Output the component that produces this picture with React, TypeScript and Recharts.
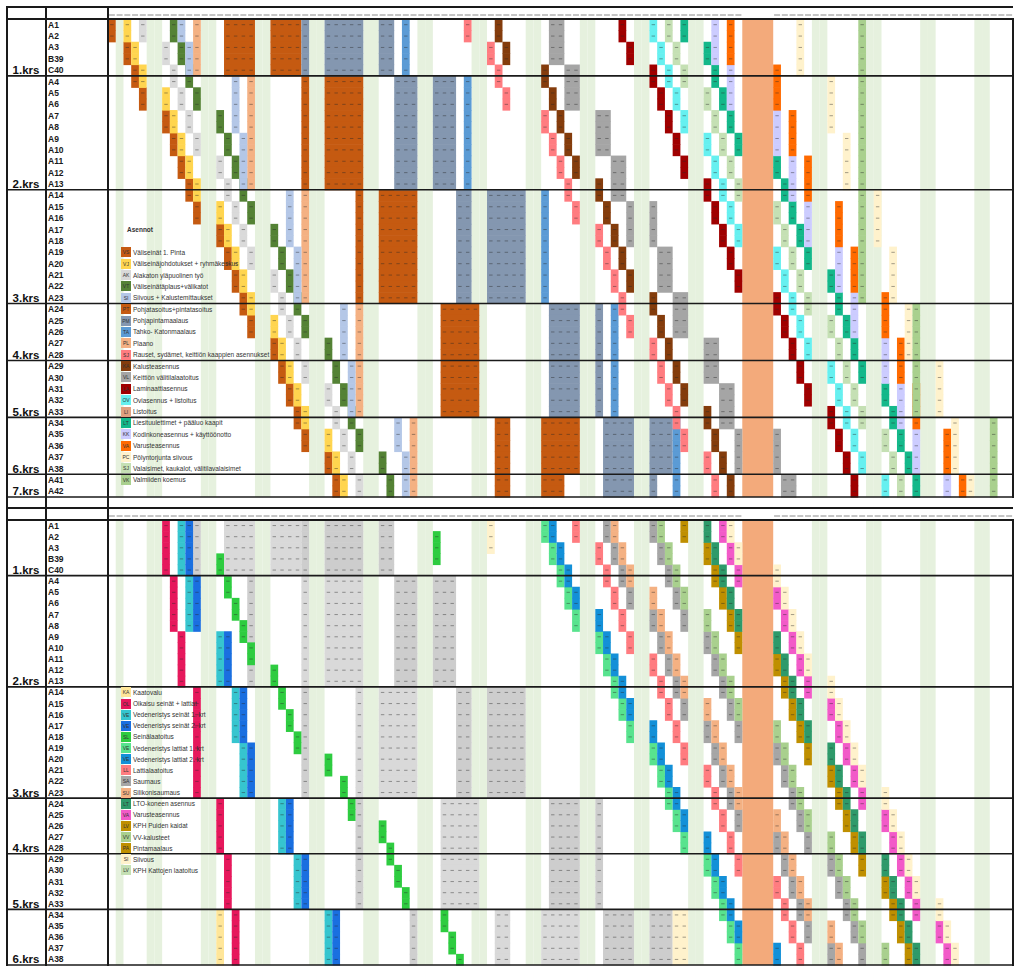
import React from "react"
import { BarChart, Bar, XAxis, YAxis, ReferenceArea, Legend } from "recharts"

const DAYS = 117
const FRAME_LEFT = 6
const PLOT_LEFT = 108
const PLOT_RIGHT = 1013
const COL_W = (PLOT_RIGHT - PLOT_LEFT) / DAYS
const FONT = '"Liberation Sans", Arial, sans-serif'

// weekend columns (light green) and the holiday block
const offDays = [1, 5, 6, 12, 13, 19, 20, 26, 27, 33, 34, 40, 41, 47, 48, 54, 55, 61, 62, 68, 69, 75, 76, 91, 92, 98, 99, 105, 106, 112, 113]
const holiday = [82, 86]

const topRows = [
  "A1", "A2", "A3", "B39", "C40",
  "A4", "A5", "A6", "A7", "A8", "A9", "A10", "A11", "A12", "A13",
  "A14", "A15", "A16", "A17", "A18", "A19", "A20", "A21", "A22", "A23",
  "A24", "A25", "A26", "A27", "A28",
  "A29", "A30", "A31", "A32", "A33",
  "A34", "A35", "A36", "A37", "A38",
  "A41", "A42",
]
const bottomRows = topRows.slice(0, 40)
const topFloors: [string, number][] = [["1.krs", 4], ["2.krs", 14], ["3.krs", 24], ["4.krs", 29], ["5.krs", 34], ["6.krs", 39], ["7.krs", 41]]
const bottomFloors = topFloors.slice(0, 6)

// ---- upper schedule: start column for each pair of rows ----
const vsSteps = [0, 2, 3, 4, 7, 8, 9, 10, 11, 14, 15, 16, 17, 18, 21, 22, 23, 24, 25, 28, 29]
const vjSteps = [2, 3, 4, 7, 8, 9, 10, 11, 14, 15, 16, 17, 18, 21, 22, 23, 24, 25, 28, 29, 30]
const akSteps = [4, 7, 8, 9, 10, 11, 14, 15, 16, 17, 18, 21, 22, 23, 24, 25, 28, 29, 30, 31, 32]
const vtSteps = [8, 9, 10, 11, 14, 15, 16, 17, 18, 21, 22, 23, 24, 25, 28, 29, 30, 31, 32, 35, 36]
const sjSteps = [46, 49, 50, 51, 56, 57, 58, 59, 60, 63, 64, 65, 66, 67, 70, 71, 72, 73, 74, 77, 78]
const kaSteps = [50, 51, 56, 57, 58, 59, 60, 63, 64, 65, 66, 67, 70, 71, 72, 73, 74, 77, 78, 79, 80]
const laSteps = [66, 67, 70, 71, 72, 73, 74, 77, 78, 79, 80, 81, 86, 87, 88, 89, 90, 93, 94, 95, 96]
const ovSteps = [70, 71, 72, 73, 74, 77, 78, 79, 80, 81, 86, 87, 88, 89, 90, 93, 94, 95, 96, 97, 100]
const luSteps = [72, 73, 74, 77, 78, 79, 80, 81, 86, 87, 88, 89, 90, 93, 94, 95, 96, 97, 100, 101, 102]
const ltSteps = [74, 77, 78, 79, 80, 81, 86, 87, 88, 89, 90, 93, 94, 95, 96, 97, 100, 101, 102, 103, 104]

// blocks: [first row, last row, first column, last column]
const plBlocks = [[0, 4, 11, 11], [5, 14, 18, 18], [15, 24, 25, 25], [25, 34, 32, 32], [35, 41, 39, 39]]
const siBlocks = [[0, 1, 9, 9], [2, 4, 10, 10], [5, 9, 16, 16], [10, 14, 17, 17], [15, 19, 23, 23], [20, 24, 24, 24], [25, 29, 30, 30], [30, 34, 31, 31], [35, 37, 37, 37], [38, 41, 38, 38]]
const ptBlocks = [[0, 4, 15, 18], [0, 4, 21, 24], [5, 14, 25, 25], [5, 14, 28, 32], [15, 24, 32, 32], [15, 24, 35, 39], [25, 34, 43, 47], [35, 39, 50, 51], [35, 39, 56, 60], [40, 41, 50, 51], [40, 41, 56, 58]]
const pmBlocks = [[0, 4, 25, 25], [0, 4, 28, 32], [0, 4, 35, 36], [5, 14, 37, 39], [5, 14, 42, 44], [15, 24, 45, 46], [15, 24, 49, 53], [25, 34, 57, 60], [25, 34, 63, 63], [35, 39, 64, 67], [35, 39, 70, 72], [40, 41, 64, 67], [40, 41, 70, 70]]
const taBlocks = [[0, 4, 38, 38], [5, 14, 46, 46], [15, 24, 56, 56], [25, 34, 65, 65], [35, 41, 73, 73]]
const vlBlocks = [[0, 3, 57, 58], [4, 7, 59, 60], [8, 11, 63, 64], [12, 15, 65, 66], [16, 19, 67, 67], [16, 19, 70, 70], [20, 23, 71, 72], [24, 27, 73, 74], [28, 31, 77, 78], [32, 35, 79, 80], [36, 39, 81, 81], [36, 39, 86, 86], [40, 41, 87, 88]]
const kkBlocks = [[0, 3, 78, 78], [4, 7, 80, 80], [8, 11, 86, 86], [12, 15, 88, 88], [16, 19, 90, 90], [20, 23, 94, 94], [24, 27, 96, 96], [28, 31, 100, 100], [32, 35, 102, 102], [36, 39, 104, 104], [40, 41, 108, 108]]
const vaBlocks = [[0, 3, 80, 80], [4, 7, 86, 86], [8, 11, 88, 88], [12, 15, 90, 90], [16, 19, 94, 94], [20, 23, 96, 96], [24, 27, 100, 100], [28, 31, 102, 102], [32, 35, 104, 104], [36, 39, 108, 108], [40, 41, 110, 110]]
const pcBlocks = [[0, 4, 89, 89], [5, 9, 93, 93], [10, 14, 95, 95], [15, 19, 99, 99], [20, 24, 101, 101], [25, 29, 103, 103], [30, 34, 107, 107], [35, 39, 109, 109], [40, 41, 111, 111]]
const vkBlocks = [[0, 24, 97, 97], [25, 34, 104, 104], [35, 41, 114, 114]]

// ---- lower schedule ----
const olBlocks = [[0, 4, 7, 7], [5, 9, 8, 8], [10, 14, 9, 9], [15, 24, 11, 11], [25, 29, 14, 14], [30, 34, 15, 15], [35, 39, 16, 16]]
const ve1Blocks = [[0, 4, 9, 9], [5, 9, 10, 10], [10, 14, 14, 14], [15, 19, 16, 16], [20, 24, 17, 17], [25, 29, 22, 22], [30, 34, 24, 24], [35, 39, 28, 28]]
const ve2Blocks = [[0, 4, 10, 10], [5, 9, 11, 11], [10, 14, 15, 15], [15, 19, 17, 17], [20, 24, 18, 18], [25, 29, 23, 23], [30, 34, 25, 25], [35, 39, 29, 29]]
const kvBlocks = [[35, 39, 14, 14]]
const slBlocks = [[3, 4, 14, 14], [5, 6, 15, 15], [7, 8, 16, 16], [9, 10, 17, 17], [11, 12, 18, 18], [13, 14, 21, 21], [15, 16, 22, 22], [17, 18, 23, 23], [19, 20, 24, 24], [21, 22, 28, 28], [23, 24, 30, 30], [25, 26, 31, 31], [27, 28, 35, 35], [29, 30, 36, 36], [31, 32, 37, 37], [33, 34, 38, 38], [35, 36, 43, 43], [37, 38, 44, 44], [39, 39, 45, 45]]
const ltoBlocks = [[1, 3, 42, 42]]
const sgBlocks = [[0, 4, 11, 11], [5, 14, 18, 18], [15, 24, 25, 25], [25, 34, 32, 32], [35, 39, 39, 39]]
const saBlocks = [[0, 4, 15, 18], [0, 4, 21, 24], [5, 14, 25, 25], [5, 14, 28, 32], [15, 24, 32, 32], [15, 24, 35, 39], [25, 34, 43, 47], [35, 39, 50, 51], [35, 39, 56, 60]]
const suBlocks = [[0, 4, 25, 25], [0, 4, 28, 32], [0, 4, 35, 36], [5, 14, 37, 39], [5, 14, 42, 44], [15, 24, 45, 46], [15, 24, 49, 53], [25, 34, 57, 60], [25, 34, 63, 63], [35, 39, 64, 67], [35, 39, 70, 72]]
const scBlocks = [[0, 2, 49, 49], [35, 39, 73, 74]]
const mintSteps = [56, 57, 58, 59, 60, 63, 64, 65, 66, 67, 70, 71, 72, 73, 74, 77, 78, 79, 80, 81]
const blueSteps = [57, 58, 59, 60, 63, 64, 65, 66, 67, 70, 71, 72, 73, 74, 77, 78, 79, 80, 81, 86]
const llSteps = [60, 63, 64, 65, 66, 67, 70, 71, 72, 73, 74, 77, 78, 79, 80, 81, 86, 87, 88, 89]
const saSteps = [64, 65, 66, 67, 70, 71, 72, 73, 74, 77, 78, 79, 80, 81, 86, 87, 88, 89, 90, 93]
const peachSteps = [65, 66, 67, 70, 71, 72, 73, 74, 77, 78, 79, 80, 81, 86, 87, 88, 89, 90, 93, 94]
const suSteps = [70, 71, 72, 73, 74, 77, 78, 79, 80, 81, 86, 87, 88, 89, 90, 93, 94, 95, 96, 97]
const vvSteps = [71, 72, 73, 74, 77, 78, 79, 80, 81, 86, 87, 88, 89, 90, 93, 94, 95, 96, 97, 100]
const paSteps = [74, 77, 78, 79, 80, 81, 86, 87, 88, 89, 90, 93, 94, 95, 96, 97, 100, 101, 102, 103]
const ltSteps2 = [77, 78, 79, 80, 81, 86, 87, 88, 89, 90, 93, 94, 95, 96, 97, 100, 101, 102, 103, 104]
const vaSteps = [79, 80, 81, 86, 87, 88, 89, 90, 93, 94, 95, 96, 97, 100, 101, 102, 103, 104, 107, 108]
const siSteps = [80, 81, 86, 87, 88, 89, 90, 93, 94, 95, 96, 97, 100, 101, 102, 103, 104, 107, 108, 109]

const topLegend: [string, string, string][] = [
  ["VS", "#C55A11", "Väliseinät 1. Pinta"],
  ["VJ", "#FFD54F", "Väliseinäjohdotukset + ryhmäkeskus"],
  ["AK", "#D9D9D9", "Alakaton yläpuolinen työ"],
  ["VT", "#548235", "Väliseinätäplaus+välikatot"],
  ["SI", "#B4C7E7", "Siivous + Kalustemittaukset"],
  ["PT", "#C55A11", "Pohjatasoitus+pintatasoitus"],
  ["PM", "#8497B0", "Pohjapintamaalaus"],
  ["TA", "#5B9BD5", "Tahko- Katonmaalaus"],
  ["PL", "#F4B183", "Plaano"],
  ["SJ", "#FF7C80", "Rauset, sydämet, keittiön kaappien asennukset"],
  ["KA", "#843C0C", "Kalusteasennus"],
  ["VL", "#A5A5A5", "Keittiön välitilalaatoitus"],
  ["LA", "#A00000", "Laminaattiasennus"],
  ["OV", "#66F0F0", "Oviasennus + listoitus"],
  ["LI", "#E0A080", "Listoitus"],
  ["LT", "#14B88A", "Liesituulettimet + pääluo kaapit"],
  ["KK", "#CCCCFF", "Kodinkoneasennus + käyttöönotto"],
  ["VA", "#FF6A00", "Varusteasennus"],
  ["PC", "#FFF2CC", "Pölyntorjunta siivous"],
  ["SJ", "#C5E0B4", "Valaisimet, kaukalot, välitilavalaisimet"],
  ["VK", "#A9D08E", "Valmiiden koemus"],
]

const bottomLegend: [string, string, string][] = [
  ["KA", "#FFE699", "Kaatovalu"],
  ["OL", "#E6185C", "Oikaisu seinät + lattiat"],
  ["VE", "#36C5CF", "Vedeneristys seinät 1. krt"],
  ["VE", "#1A6FE0", "Vedeneristys seinät 2. krt"],
  ["SL", "#2ECC40", "Seinälaatoitus"],
  ["VE", "#58E38E", "Vedeneristys lattiat 1. krt"],
  ["VE", "#1390D8", "Vedeneristys lattiat 2. krt"],
  ["LL", "#FF7C80", "Lattialaatoitus"],
  ["SA", "#A6A6A6", "Saumaus"],
  ["SU", "#F4B183", "Silikonisaumaus"],
  ["LT", "#2E9A6A", "LTO-koneen asennus"],
  ["VA", "#F25AC8", "Varusteasennus"],
  ["LV", "#BF8F00", "KPH Puiden kaidat"],
  ["VV", "#A9D08E", "VV-kalusteet"],
  ["PA", "#BF8F00", "Pintamaalaus"],
  ["SI", "#FFF2CC", "Siivous"],
  ["LV", "#C5E0B4", "KPH Kattojen laatoitus"],
]

type Task = { id: string; color: string; blocks: number[][] }
const pairs = (cols: number[]) => cols.map((c, p) => [p * 2, p * 2 + 1, c, c])

const topTasks: Task[] = [
  { id: "pl", color: "#F4B183", blocks: plBlocks },
  { id: "vs", color: "#C55A11", blocks: pairs(vsSteps) },
  { id: "vj", color: "#FFD54F", blocks: pairs(vjSteps) },
  { id: "ak", color: "#DADADA", blocks: pairs(akSteps) },
  { id: "vt", color: "#548235", blocks: pairs(vtSteps) },
  { id: "si", color: "#B4C7E7", blocks: siBlocks },
  { id: "pt", color: "#C55A11", blocks: ptBlocks },
  { id: "pm", color: "#8497B0", blocks: pmBlocks },
  { id: "ta", color: "#5B9BD5", blocks: taBlocks },
  { id: "sj", color: "#FF7C80", blocks: pairs(sjSteps) },
  { id: "ka", color: "#843C0C", blocks: pairs(kaSteps) },
  { id: "vl", color: "#A5A5A5", blocks: vlBlocks },
  { id: "la", color: "#A00000", blocks: pairs(laSteps) },
  { id: "ov", color: "#66F0F0", blocks: pairs(ovSteps) },
  { id: "lu", color: "#C5E0B4", blocks: pairs(luSteps) },
  { id: "lt", color: "#14B88A", blocks: pairs(ltSteps) },
  { id: "kk", color: "#CCCCFF", blocks: kkBlocks },
  { id: "va", color: "#FF6A00", blocks: vaBlocks },
  { id: "pc", color: "#FFF2CC", blocks: pcBlocks },
  { id: "vk", color: "#A9D08E", blocks: vkBlocks },
]

const bottomTasks: Task[] = [
  { id: "sg", color: "#CFCFCF", blocks: sgBlocks },
  { id: "ol", color: "#E6185C", blocks: olBlocks },
  { id: "ve1", color: "#36C5CF", blocks: ve1Blocks },
  { id: "ve2", color: "#1A6FE0", blocks: ve2Blocks },
  { id: "kv", color: "#FFE699", blocks: kvBlocks },
  { id: "sl", color: "#2ECC40", blocks: slBlocks },
  { id: "lto", color: "#2ECC40", blocks: ltoBlocks },
  { id: "sa", color: "#D9D9D9", blocks: saBlocks },
  { id: "su", color: "#CDCDCD", blocks: suBlocks },
  { id: "sc", color: "#FFF2CC", blocks: scBlocks },
  { id: "mint", color: "#58E38E", blocks: pairs(mintSteps) },
  { id: "blue", color: "#1390D8", blocks: pairs(blueSteps) },
  { id: "ll", color: "#FF7C80", blocks: pairs(llSteps) },
  { id: "sa2", color: "#A6A6A6", blocks: pairs(saSteps) },
  { id: "peach", color: "#F4B183", blocks: pairs(peachSteps) },
  { id: "su2", color: "#A6A6A6", blocks: pairs(suSteps) },
  { id: "vv", color: "#A9D08E", blocks: pairs(vvSteps) },
  { id: "pa", color: "#BF8F00", blocks: pairs(paSteps) },
  { id: "lt2", color: "#2E9A6A", blocks: pairs(ltSteps2) },
  { id: "va2", color: "#F25AC8", blocks: pairs(vaSteps) },
  { id: "si2", color: "#FFF2CC", blocks: pairs(siSteps) },
]

// one row per apartment; a task with two spans in one row gets a second layer
function buildRows(labels: string[], tasks: Task[]) {
  const rows: any[] = labels.map((label) => ({ label }))
  const layers: Record<string, number> = {}
  tasks.forEach((t) => {
    const perRow: number[][][] = labels.map(() => [])
    t.blocks.forEach(([r0, r1, c0, c1]) => {
      for (let r = r0; r <= Math.min(r1, labels.length - 1); r++) perRow[r].push([c0, c1 + 1])
    })
    layers[t.id] = 0
    perRow.forEach((segs, r) => {
      segs.sort((a, b) => a[0] - b[0]).forEach((s, k) => {
        rows[r][`${t.id}_${k}`] = s
      })
      layers[t.id] = Math.max(layers[t.id], segs.length)
    })
  })
  return { rows, layers }
}

const cellShape = (props: any) => {
  const { x, y, width, height, fill } = props
  if (!width || width <= 0 || !height) return <g />
  const n = Math.max(1, Math.round(width / COL_W))
  const cw = width / n
  const my = y + height / 2
  return (
    <g>
      <rect x={x} y={y} width={width} height={height + 0.6} fill={fill} />
      {Array.from({ length: n }, (_, i) => (
        <line key={i} x1={x + i * cw + cw * 0.28} x2={x + (i + 1) * cw - cw * 0.28} y1={my} y2={my} stroke="rgba(40,40,40,0.55)" strokeWidth={0.8} />
      ))}
    </g>
  )
}

const dashTick = (props: any) => {
  const { x, y } = props
  return <line x1={x - 3} x2={x + 3} y1={y - 4} y2={y - 4} stroke="#8a8a8a" strokeWidth={1} />
}

const legendBox = (items: [string, string, string][], rowH: number, title?: string) => () => (
  <div style={{ fontFamily: FONT, fontSize: 6.5, color: "#333", textAlign: "left", whiteSpace: "nowrap" }}>
    {title && <div style={{ height: rowH * 2, lineHeight: `${rowH}px`, fontWeight: "bold", paddingLeft: 6 }}>{title}</div>}
    {items.map(([code, color, name], i) => (
      <div key={i} style={{ height: rowH, display: "flex", alignItems: "center" }}>
        <span style={{ width: 10, height: 10, background: color, fontSize: 5, lineHeight: "10px", textAlign: "center", marginRight: 2, color: "#333" }}>{code}</span>
        <span>{name}</span>
      </div>
    ))}
  </div>
)

type PanelProps = {
  labels: string[]
  floors: [string, number][]
  tasks: Task[]
  legend: [string, string, string][]
  legendTitle?: string
  legendRow: number
  top: number
  height: number
  padTop: number
  axisH: number
}

function Panel({ labels, floors, tasks, legend, legendTitle, legendRow, top, height, padTop, axisH }: PanelProps) {
  const plotH = height - padTop - axisH - 3
  const rowH = plotH / labels.length
  const bs = rowH - 0.01
  const { rows, layers } = buildRows(labels, tasks)
  const floorByLabel = new Map(floors.map(([name, r]) => [labels[r], name]))
  const dayTicks = Array.from({ length: DAYS }, (_, i) => i + 0.5).filter((v) => v < holiday[0] || v > holiday[1])

  const aptTick = (props: any) => (
    <text x={48} y={props.y} dominantBaseline="central" fontFamily={FONT} fontSize={8.5} fontWeight="bold" fill="#1a1a1a">
      {props.payload.value}
    </text>
  )
  const floorTick = (props: any) => {
    const name = floorByLabel.get(props.payload.value)
    if (!name) return <g />
    const yb = props.y + rowH / 2
    return (
      <g>
        <text x={26} y={props.y} textAnchor="middle" dominantBaseline="central" fontFamily={FONT} fontSize={11.5} fontWeight="bold" fill="#111">
          {name}
        </text>
        <line x1={FRAME_LEFT} x2={PLOT_RIGHT} y1={yb} y2={yb} stroke="#1a1a1a" strokeWidth={1.6} />
      </g>
    )
  }

  return (
    <div style={{ position: "absolute", left: 0, top }}>
      <BarChart
        width={1024}
        height={height}
        data={rows}
        layout="vertical"
        margin={{ top: padTop, right: 1024 - PLOT_RIGHT, bottom: 3, left: FRAME_LEFT }}
        barSize={bs}
        barGap={-bs}
        barCategoryGap={0}
      >
        {offDays.map((d) => (
          <ReferenceArea key={d} x1={d} x2={d + 1} fill="#E6F1DE" fillOpacity={1} stroke="none" />
        ))}
        <ReferenceArea x1={holiday[0]} x2={holiday[1]} fill="#F3AA7B" fillOpacity={1} stroke="none" />
        {tasks.flatMap((t) =>
          Array.from({ length: layers[t.id] }, (_, k) => (
            <Bar key={`${t.id}_${k}`} dataKey={`${t.id}_${k}`} fill={t.color} shape={cellShape} isAnimationActive={false} />
          ))
        )}
        <XAxis type="number" orientation="top" domain={[0, DAYS]} allowDataOverflow ticks={dayTicks} interval={0} height={axisH} tick={dashTick} tickSize={0} tickMargin={0} axisLine={false} tickLine={false} />
        <YAxis type="category" dataKey="label" width={62} interval={0} tick={aptTick} tickSize={0} tickMargin={0} axisLine={false} tickLine={false} />
        <YAxis yAxisId="floor" type="category" dataKey="label" width={40} interval={0} tick={floorTick} tickSize={0} tickMargin={0} axisLine={false} tickLine={false} />
        <Legend
          layout="vertical"
          align="center"
          verticalAlign="middle"
          content={legendBox(legend, rowH, legendTitle)}
          wrapperStyle={{ left: 121, top: padTop + axisH + legendRow * rowH, width: "auto", height: "auto" }}
        />
      </BarChart>
    </div>
  )
}

const line = (left: number, top: number, width: number, height: number, key: string) => (
  <div key={key} style={{ position: "absolute", left, top, width, height, background: "#1a1a1a" }} />
)

export default function App() {
  return (
    <div style={{ position: "absolute", left: 0, top: 0, width: 1024, height: 968, background: "#fff", overflow: "hidden" }}>
      <Panel labels={topRows} floors={topFloors} tasks={topTasks} legend={topLegend} legendTitle="Asennot" legendRow={18} top={0} height={500} padTop={8} axisH={11} />
      <Panel labels={bottomRows} floors={bottomFloors} tasks={bottomTasks} legend={bottomLegend} legendRow={15} top={497} height={471} padTop={11} axisH={12} />
      {line(FRAME_LEFT, 6.3, PLOT_RIGHT - FRAME_LEFT, 2, "h1")}
      {line(FRAME_LEFT, 18, PLOT_RIGHT - FRAME_LEFT, 2, "h2")}
      {line(FRAME_LEFT, 507, PLOT_RIGHT - FRAME_LEFT, 2, "h3")}
      {line(FRAME_LEFT, 519, PLOT_RIGHT - FRAME_LEFT, 2, "h4")}
      {line(5.5, 6.3, 2, 960, "v1")}
      {line(44.5, 6.3, 2, 960, "v2")}
      {line(107, 6.3, 2, 960, "v3")}
      {line(1012, 18, 2, 480, "v4")}
      {line(1012, 519, 2, 447, "v5")}
    </div>
  )
}
